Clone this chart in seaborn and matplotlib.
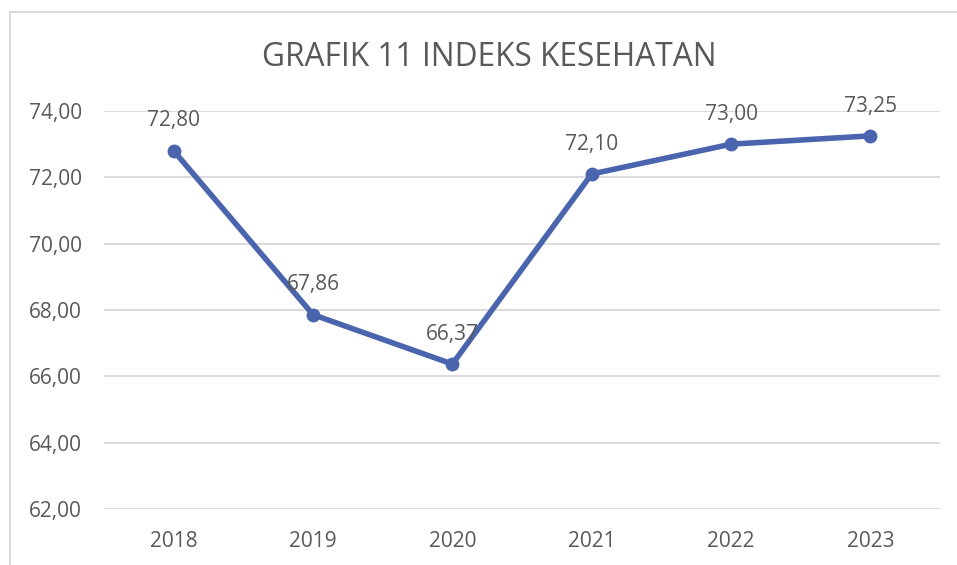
import matplotlib
matplotlib.use("Agg")
import matplotlib.pyplot as plt
import seaborn as sns
import pandas as pd
from matplotlib.patches import Rectangle

years = ["2018", "2019", "2020", "2021", "2022", "2023"]
values = [72.80, 67.86, 66.37, 72.10, 73.00, 73.25]
y_ticks = [62, 64, 66, 68, 70, 72, 74]

sns.set_theme(style="white")
plt.rcParams['font.family'] = ['Open Sans', 'DejaVu Sans']

TXT = "#595959"
LINE = "#4A65AE"
GRID = "#D9D9D9"

fig = plt.figure(figsize=(9.57, 5.65), dpi=100)
fig.patch.set_facecolor("white")
ax = fig.add_axes([104/957, 1-509/565, (940-104)/957, (509-111)/565])

df = pd.DataFrame({"year": years, "value": values})
sns.lineplot(data=df, x="year", y="value", ax=ax, color=LINE, linewidth=4.0,
             marker="o", markersize=10, markeredgewidth=0, sort=False)

ax.set_xlim(-0.5, len(years) - 0.5)
ax.set_ylim(62, 74)
ax.set_yticks(y_ticks)
ax.set_yticklabels([f"{t:.2f}".replace(".", ",") for t in y_ticks])
ax.set_xlabel("")
ax.set_ylabel("")
for s in ax.spines.values():
    s.set_visible(False)
ax.grid(axis="y", color=GRID, linewidth=1.3)
ax.grid(axis="x", visible=False)
ax.set_axisbelow(True)
ax.tick_params(axis="both", length=0, labelsize=15, colors=TXT)
ax.tick_params(axis="y", pad=16)
ax.tick_params(axis="x", pad=16)

for i, v in enumerate(values):
    ax.annotate(f"{v:.2f}".replace(".", ","), xy=(i, v), xytext=(0, 21.5),
                textcoords="offset points", ha="center", va="center",
                fontsize=15, color=TXT)

fig.text(489/957, 1-58/565, "GRAFIK 11 INDEKS KESEHATAN", ha="center", va="center",
         fontsize=22.8, color=TXT)

fig.patches.append(Rectangle((9.5/957, -0.1), 1.2, 1.1 - 12.5/565,
                             transform=fig.transFigure, fill=False,
                             edgecolor=GRID, linewidth=1.5))

fig.savefig("out.png", dpi=100)
